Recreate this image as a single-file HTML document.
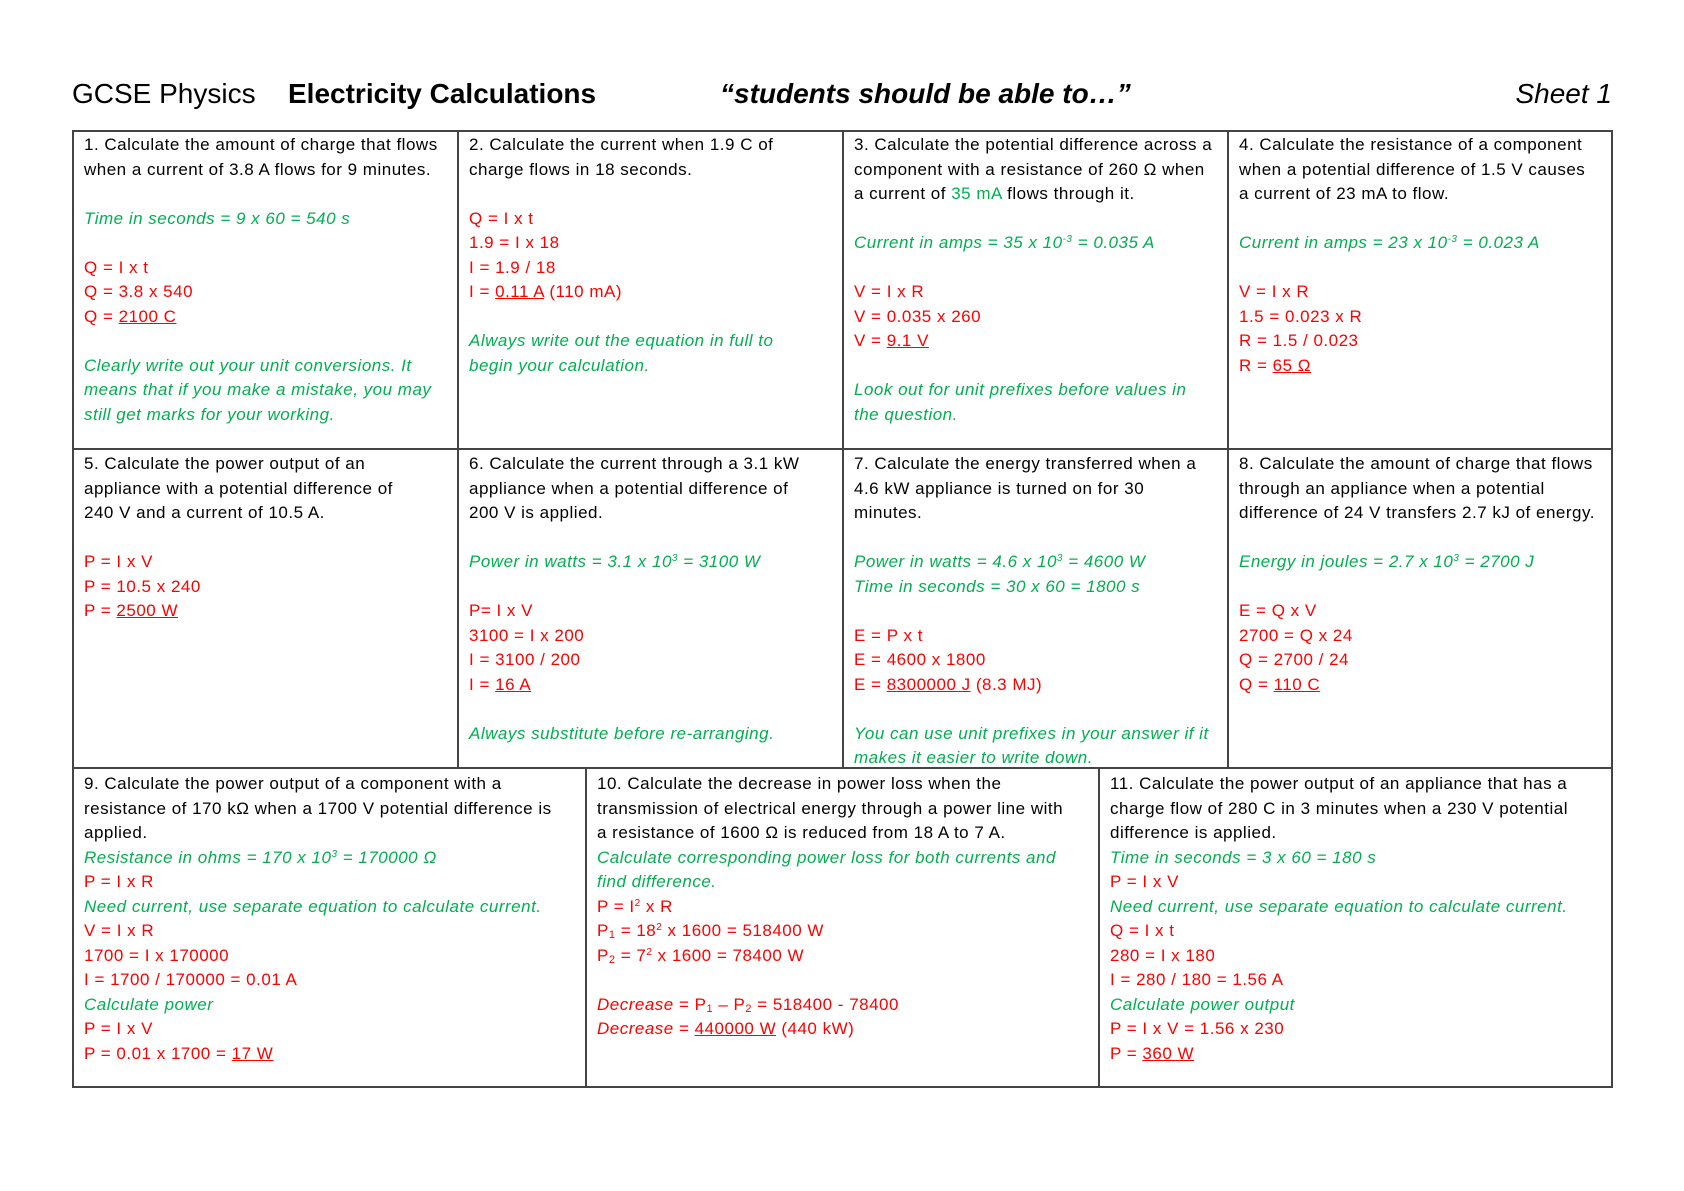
<!DOCTYPE html>
<html><head><meta charset="utf-8"><style>
html,body{margin:0;padding:0;background:#fff;}
body{width:1684px;height:1191px;position:relative;overflow:hidden;font-family:"Liberation Sans",sans-serif;color:#000;}
.h{position:absolute;top:77px;font-size:28px;line-height:34px;white-space:nowrap;}
.c{position:absolute;box-sizing:border-box;padding:2px 0 0 12px;font-size:17px;letter-spacing:0.5px;line-height:24.5px;white-space:nowrap;overflow:hidden;}
.r{color:#ff0000;}
.g{color:#00b050;font-style:italic;}
.u{text-decoration:underline;}
sup{font-size:10px;line-height:0;vertical-align:6px;}
sub{font-size:11px;line-height:0;vertical-align:-2px;}
.hl{position:absolute;background:#444;height:2px;}
.vl{position:absolute;background:#444;width:2px;}
</style></head><body>
<div class="h" style="left:72px;">GCSE Physics</div>
<div class="h" style="left:288px;font-weight:bold;">Electricity Calculations</div>
<div class="h" style="left:720px;font-weight:bold;font-style:italic;">“students should be able to…”</div>
<div class="h" style="right:72px;font-style:italic;">Sheet 1</div>

<div class="hl" style="left:72px;width:1541px;top:130px;"></div>
<div class="hl" style="left:72px;width:1541px;top:448px;"></div>
<div class="hl" style="left:72px;width:1541px;top:767px;"></div>
<div class="hl" style="left:72px;width:1541px;top:1086px;"></div>
<div class="vl" style="left:72px;top:130px;height:958px;"></div>
<div class="vl" style="left:1611px;top:130px;height:958px;"></div>
<div class="vl" style="left:457px;top:130px;height:638px;"></div>
<div class="vl" style="left:842px;top:130px;height:638px;"></div>
<div class="vl" style="left:1227px;top:130px;height:638px;"></div>
<div class="vl" style="left:585px;top:767px;height:320px;"></div>
<div class="vl" style="left:1098px;top:767px;height:320px;"></div>

<div class="c" style="left:72px;top:131px;width:385px;height:317px;">
1. Calculate the amount of charge that flows<br>when a current of 3.8 A flows for 9 minutes.<br><br>
<span class="g">Time in seconds = 9 x 60 = 540 s</span><br><br>
<span class="r">Q = I x t<br>Q = 3.8 x 540<br>Q = <span class="u">2100 C</span></span><br><br>
<span class="g">Clearly write out your unit conversions. It<br>means that if you make a mistake, you may<br>still get marks for your working.</span>
</div>
<div class="c" style="left:457px;top:131px;width:385px;height:317px;">
2. Calculate the current when 1.9 C of<br>charge flows in 18 seconds.<br><br>
<span class="r">Q = I x t<br>1.9 = I x 18<br>I = 1.9 / 18<br>I = <span class="u">0.11 A</span> (110 mA)</span><br><br>
<span class="g">Always write out the equation in full to<br>begin your calculation.</span>
</div>
<div class="c" style="left:842px;top:131px;width:385px;height:317px;">
3. Calculate the potential difference across a<br>component with a resistance of 260 Ω when<br>a current of <span style="color:#00b050">35 mA</span> flows through it.<br><br>
<span class="g">Current in amps = 35 x 10<sup>-3</sup> = 0.035 A</span><br><br>
<span class="r">V = I x R<br>V = 0.035 x 260<br>V = <span class="u">9.1 V</span></span><br><br>
<span class="g">Look out for unit prefixes before values in<br>the question.</span>
</div>
<div class="c" style="left:1227px;top:131px;width:385px;height:317px;">
4. Calculate the resistance of a component<br>when a potential difference of 1.5 V causes<br>a current of 23 mA to flow.<br><br>
<span class="g">Current in amps = 23 x 10<sup>-3</sup> = 0.023 A</span><br><br>
<span class="r">V = I x R<br>1.5 = 0.023 x R<br>R = 1.5 / 0.023<br>R = <span class="u">65 Ω</span></span>
</div>

<div class="c" style="left:72px;top:450px;width:385px;height:317px;">
5. Calculate the power output of an<br>appliance with a potential difference of<br>240 V and a current of 10.5 A.<br><br>
<span class="r">P = I x V<br>P = 10.5 x 240<br>P = <span class="u">2500 W</span></span>
</div>
<div class="c" style="left:457px;top:450px;width:385px;height:317px;">
6. Calculate the current through a 3.1 kW<br>appliance when a potential difference of<br>200 V is applied.<br><br>
<span class="g">Power in watts = 3.1 x 10<sup>3</sup> = 3100 W</span><br><br>
<span class="r">P= I x V<br>3100 = I x 200<br>I = 3100 / 200<br>I = <span class="u">16 A</span></span><br><br>
<span class="g">Always substitute before re-arranging.</span>
</div>
<div class="c" style="left:842px;top:450px;width:385px;height:317px;">
7. Calculate the energy transferred when a<br>4.6 kW appliance is turned on for 30<br>minutes.<br><br>
<span class="g">Power in watts = 4.6 x 10<sup>3</sup> = 4600 W<br>Time in seconds = 30 x 60 = 1800 s</span><br><br>
<span class="r">E = P x t<br>E = 4600 x 1800<br>E = <span class="u">8300000 J</span> (8.3 MJ)</span><br><br>
<span class="g">You can use unit prefixes in your answer if it<br>makes it easier to write down.</span>
</div>
<div class="c" style="left:1227px;top:450px;width:385px;height:317px;">
8. Calculate the amount of charge that flows<br>through an appliance when a potential<br>difference of 24 V transfers 2.7 kJ of energy.<br><br>
<span class="g">Energy in joules = 2.7 x 10<sup>3</sup> = 2700 J</span><br><br>
<span class="r">E = Q x V<br>2700 = Q x 24<br>Q = 2700 / 24<br>Q = <span class="u">110 C</span></span>
</div>

<div class="c" style="left:72px;top:770px;width:513px;height:316px;">
9. Calculate the power output of a component with a<br>resistance of 170 kΩ when a 1700 V potential difference is<br>applied.<br>
<span class="g">Resistance in ohms = 170 x 10<sup>3</sup> = 170000 Ω</span><br>
<span class="r">P = I x R</span><br>
<span class="g">Need current, use separate equation to calculate current.</span><br>
<span class="r">V = I x R<br>1700 = I x 170000<br>I = 1700 / 170000 = 0.01 A</span><br>
<span class="g">Calculate power</span><br>
<span class="r">P = I x V<br>P = 0.01 x 1700 = <span class="u">17 W</span></span>
</div>
<div class="c" style="left:585px;top:770px;width:513px;height:316px;">
10. Calculate the decrease in power loss when the<br>transmission of electrical energy through a power line with<br>a resistance of 1600 Ω is reduced from 18 A to 7 A.<br>
<span class="g">Calculate corresponding power loss for both currents and<br>find difference.</span><br>
<span class="r">P = I<sup>2</sup> x R<br>P<sub>1</sub> = 18<sup>2</sup> x 1600 = 518400 W<br>P<sub>2</sub> = 7<sup>2</sup> x 1600 = 78400 W<br><br>
<i>Decrease</i> = P<sub>1</sub> – P<sub>2</sub> = 518400 - 78400<br><i>Decrease</i> = <span class="u">440000 W</span> (440 kW)</span>
</div>
<div class="c" style="left:1098px;top:770px;width:514px;height:316px;">
11. Calculate the power output of an appliance that has a<br>charge flow of 280 C in 3 minutes when a 230 V potential<br>difference is applied.<br>
<span class="g">Time in seconds = 3 x 60 = 180 s</span><br>
<span class="r">P = I x V</span><br>
<span class="g">Need current, use separate equation to calculate current.</span><br>
<span class="r">Q = I x t<br>280 = I x 180<br>I = 280 / 180 = 1.56 A</span><br>
<span class="g">Calculate power output</span><br>
<span class="r">P = I x V = 1.56 x 230<br>P = <span class="u">360 W</span></span>
</div>
</body></html>
